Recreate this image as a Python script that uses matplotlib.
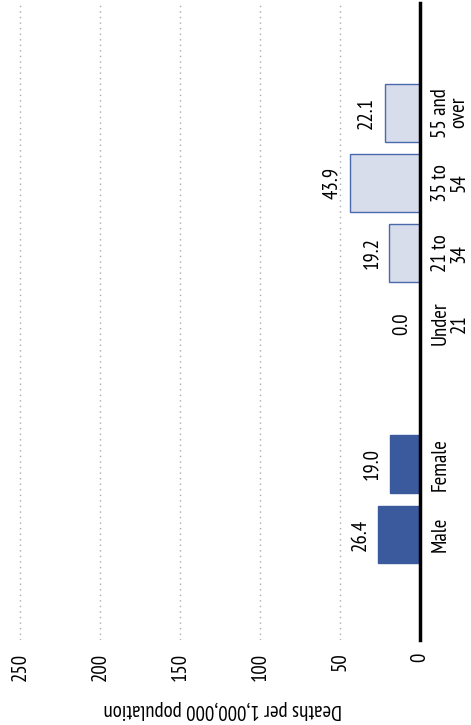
import matplotlib
matplotlib.use("Agg")
import matplotlib.pyplot as plt
from matplotlib import font_manager

names = {f.name for f in font_manager.fontManager.ttflist}
fam = "DejaVu Sans"
for cand in ["PT Sans Narrow", "Open Sans Condensed", "Roboto Condensed", "Barlow Semi Condensed", "Archivo Narrow"]:
    if cand in names:
        fam = cand
        break
plt.rcParams['font.family'] = [fam, 'DejaVu Sans']

# Data
categories = ["Male", "Female", "Under\n21", "21 to\n34", "35 to\n54", "55 and\nover"]
values = [26.4, 19.0, 0.0, 19.2, 43.9, 22.1]
groups = ["sex", "sex", "age", "age", "age", "age"]
value_ticks = [0, 50, 100, 150, 200, 250]
axis_label = "Deaths per 1,000,000 population"

positions = [0, 1, 3, 4, 5, 6]
dark = "#3B5A9D"
light_face = "#D7DDEB"
light_edge = "#4A69AC"
FS = 15

fig = plt.figure(figsize=(4.71, 7.25), dpi=100)
ax = fig.add_axes([10/471, 85/725, 410/471, 637/725])

for p, v, g in zip(positions, values, groups):
    if g == "sex":
        ax.barh(p, v, height=0.82, color=dark, edgecolor=dark, linewidth=1, zorder=3)
    else:
        ax.barh(p, v, height=0.82, color=light_face, edgecolor=light_edge, linewidth=1, zorder=3)
    ax.annotate(f"{v:.1f}", xy=(v, p), xytext=(-6, 0), textcoords="offset points",
                rotation=90, ha="right", va="center", fontsize=FS, annotation_clip=False)

for p, c in zip(positions, categories):
    ax.annotate(c, xy=(0, p), xytext=(8, 0), textcoords="offset points",
                rotation=90, ha="left", va="center", multialignment="center",
                linespacing=0.95, fontsize=FS, annotation_clip=False)

ax.set_xlim(256.25, 0)
ax.set_ylim(-1.5, 7.56)
ax.set_xticks(value_ticks)
ax.set_xticklabels([str(t) for t in value_ticks], rotation=90, fontsize=FS)
ax.tick_params(axis="x", length=0, pad=9)
ax.set_yticks([])
for t in value_ticks[1:]:
    ax.axvline(t, color="#AAAAAA", linestyle=(0, (1, 3)), linewidth=1, zorder=1)

for s in ["top", "left", "bottom"]:
    ax.spines[s].set_visible(False)
ax.spines["right"].set_linewidth(2.5)
ax.spines["right"].set_color("black")
ax.spines["right"].set_zorder(4)

fig.text(223/471, 1 - 710/725, axis_label, rotation=180, ha="center", va="center", fontsize=FS)

fig.savefig("out.png", dpi=100)
